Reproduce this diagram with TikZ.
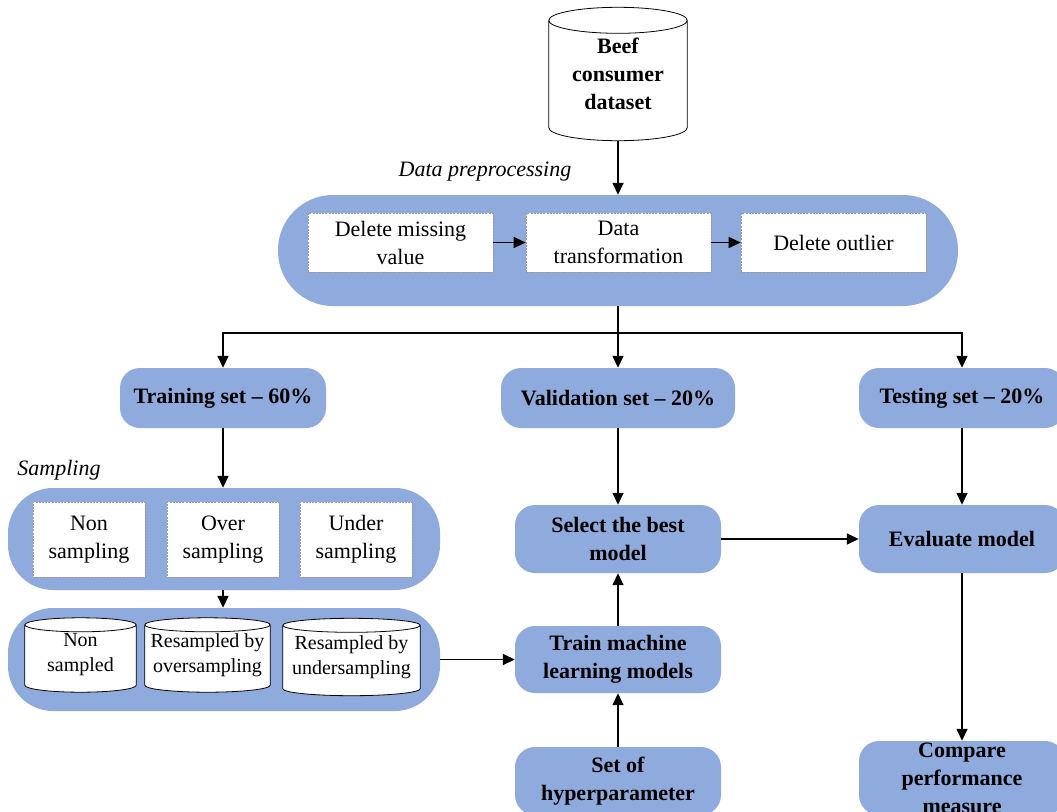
\documentclass[tikz,border=0pt]{standalone}
\usepackage{fontspec}
\setmainfont{Liberation Serif}
\usetikzlibrary{arrows.meta,calc}
\definecolor{boxblue}{HTML}{8FAADC}
\pgfdeclarelayer{bg}
\pgfdeclarelayer{mid}
\pgfsetlayers{bg,mid,main}
\tikzset{
 txt/.style={font=\fontsize{22}{28}\selectfont, align=center, inner sep=0pt},
 bluebox/.style={txt, font=\fontsize{22}{28}\selectfont\bfseries, fill=boxblue, rounded corners=20pt, minimum width=206pt, minimum height=67pt},
 group/.style={fill=boxblue, inner sep=0pt},
 dbox/.style={txt, fill=white, draw=gray!80, dash pattern=on 2pt off 1.2pt, line width=0.7pt},
 arr/.style={line width=1.5pt, -{Triangle[length=12pt,width=11pt]}},
 ln/.style={line width=1.5pt},
 cyltext/.style={txt, font=\fontsize{20}{25}\selectfont},
 cylline/.style={draw=black, line width=0.8pt, fill=white},
 lbl/.style={font=\fontsize{22}{28}\selectfont\itshape, inner sep=0pt},
}
\newcommand\drawcyl[2]{%
 \path[cylline] let \p1=(#1.north west), \p2=(#1.south east) in
   (\x1,\y1-#2) -- (\x1,\y2+#2) arc[start angle=180,end angle=360,x radius={(\x2-\x1)/2},y radius=#2]
   -- (\x2,\y1-#2) arc[start angle=0,end angle=180,x radius={(\x2-\x1)/2},y radius=#2] -- cycle
   (\x1,\y1-#2) arc[start angle=180,end angle=360,x radius={(\x2-\x1)/2},y radius=#2];
}
\begin{document}
\begin{tikzpicture}[x=1pt,y=-1pt]
\clip (0,0) rectangle (1057,811);
\begin{pgfonlayer}{bg}
\fill[white] (0,0) rectangle (1057,811);
\end{pgfonlayer}

% top database
\node[txt, font=\fontsize{22}{28}\selectfont\bfseries, minimum width=138pt, minimum height=133pt] (db) at (618,74) {Beef\\consumer\\dataset};
\begin{pgfonlayer}{mid}\drawcyl{db}{13pt}\end{pgfonlayer}

% group boxes
\begin{pgfonlayer}{bg}
\node[group, rounded corners=55pt, minimum width=680pt, minimum height=111pt] (pre) at (618,250.5) {};
\node[group, rounded corners=45pt, minimum width=432pt, minimum height=102pt] (samp) at (224,539) {};
\node[group, rounded corners=45pt, minimum width=432pt, minimum height=103pt] (cylg) at (224,659.5) {};
\end{pgfonlayer}
\node[lbl] (prelbl) at (485,172) {Data preprocessing};
\node[dbox, minimum width=185pt, minimum height=59pt] (dmv) at (400.5,242.5) {Delete missing\\value};
\node[dbox, minimum width=185pt, minimum height=59pt] (dtr) at (618.5,242.5) {Data\\transformation};
\node[dbox, minimum width=185pt, minimum height=59pt] (dol) at (833.5,242.5) {Delete outlier};

% split sets
\node[bluebox, minimum width=206pt, minimum height=60pt] (trset) at (223,398) {Training set -- 60\%};
\node[bluebox, minimum width=234pt, minimum height=60pt] (vaset) at (618,398) {Validation set -- 20\%};
\node[bluebox, minimum width=206pt, minimum height=60pt] (teset) at (962,398) {Testing set -- 20\%};
\coordinate (split) at (618,333);

% sampling
\node[lbl] (samplbl) at (59,470) {Sampling};
\node[dbox, minimum width=112pt, minimum height=75pt] (nons) at (89,539.5) {Non\\sampling};
\node[dbox, minimum width=112pt, minimum height=75pt] (overs) at (223,539.5) {Over\\sampling};
\node[dbox, minimum width=112pt, minimum height=75pt] (unders) at (356,539.5) {Under\\sampling};

% resampled data cylinders
\node[cyltext, minimum width=111pt, minimum height=74pt] (c1) at (80.5,655) {Non\\sampled};
\node[cyltext, minimum width=125pt, minimum height=74pt] (c2) at (207.5,655) {Resampled by\\oversampling};
\node[cyltext, minimum width=137pt, minimum height=77pt] (c3) at (351.5,657) {Resampled by\\undersampling};
\begin{pgfonlayer}{mid}
\drawcyl{c1}{7pt}
\drawcyl{c2}{7pt}
\drawcyl{c3}{7pt}
\end{pgfonlayer}

% model nodes
\node[bluebox, minimum height=68pt] (sel) at (618,539) {Select the best\\model};
\node[bluebox, minimum height=68pt] (eval) at (962,539) {Evaluate model};
\node[bluebox, minimum height=67pt] (trml) at (618,659.5) {Train machine\\learning models};
\node[bluebox, minimum height=68pt] (hyp) at (618,781) {Set of\\hyperparameter};
\node[bluebox, minimum height=74pt] (cmp) at (962,778) {Compare\\performance\\measure};

% connectors
\draw[arr] (db.south) -- (pre.north);
\draw[arr] (dmv.east) -- (dtr.west);
\draw[arr] (dtr.east) -- (dol.west);
\draw[ln] (pre.south) -- (split);
\draw[arr] (split) -| (trset.north);
\draw[arr] (split) -| (teset.north);
\draw[arr] (split) -- (vaset.north);
\draw[arr] (trset.south) -- (trset.south |- samp.north);
\draw[arr] (trset.south |- samp.south) -- (trset.south |- cylg.north);
\draw[arr] (cylg.east) -- (trml.west);
\draw[arr] (vaset.south) -- (sel.north);
\draw[arr] (trml.north) -- (sel.south);
\draw[arr] (hyp.north) -- (trml.south);
\draw[arr] (sel.east) -- (eval.west);
\draw[arr] (teset.south) -- (eval.north);
\draw[arr] (eval.south) -- (cmp.north);
\end{tikzpicture}
\end{document}
